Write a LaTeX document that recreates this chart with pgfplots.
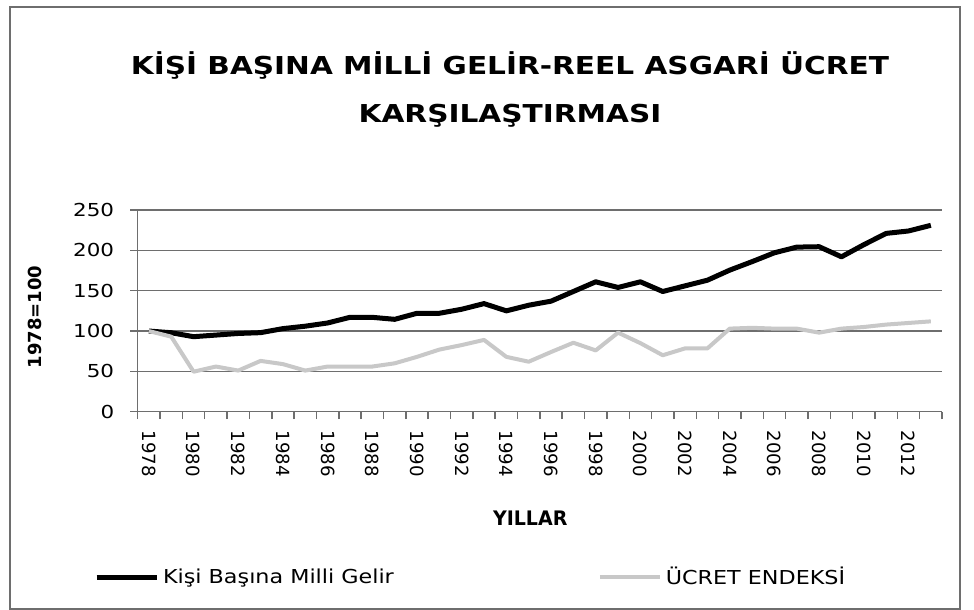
\documentclass[border=0pt]{standalone}
\usepackage{pgfplots}
\pgfplotsset{compat=1.18}
\usepackage{fontspec}
\setmainfont{DejaVu Sans}
\newfontfamily\titlefont{DejaVu Sans}[FakeStretch=1.2]
\newfontfamily\tickfont{DejaVu Sans}[FakeStretch=1.2]
\newfontfamily\legfont{DejaVu Sans}[FakeStretch=1.16]
\newfontfamily\yilfont{DejaVu Sans}[FakeStretch=0.95]
\newfontfamily\rotfont{DejaVu Sans}
\definecolor{gridc}{RGB}{110,110,110}
\definecolor{lgray}{RGB}{200,200,200}
\pgfplotstableread{
year gelir ucret
1978 100 100
1979 97.9 93
1980 93 49.6
1981 95 56
1982 97 51
1983 98 63
1984 103 59
1985 106 51
1986 110 56
1987 117 56
1988 117 56
1989 114.5 60
1990 122 68
1991 122 77
1992 127 82.6
1993 134 89
1994 125 68
1995 132 62
1996 137 74
1997 149 85.5
1998 161 76
1999 154 98
2000 161 85
2001 149 70
2002 156 78.5
2003 163 78.5
2004 175.5 103
2005 186 104
2006 197 103
2007 204 103
2008 204.5 98
2009 192 103
2010 207 105
2011 221 108
2012 224 110
2013 231 112
}\datatable
\begin{document}
\begin{tikzpicture}[x=0.75pt,y=0.75pt]
\useasboundingbox (0,0) rectangle (974,610);
\fill[white] (0,0) rectangle (974,610);
\draw[gridc, line width=1.1pt] (10,1) rectangle (960,603);
\node[anchor=base] at (510,535) {\titlefont\bfseries\fontsize{18.5}{22}\selectfont KİŞİ BAŞINA MİLLİ GELİR-REEL ASGARİ ÜCRET};
\node[anchor=base] at (510,487) {\titlefont\bfseries\fontsize{18.5}{22}\selectfont KARŞILAŞTIRMASI};
\begin{axis}[
  at={(103.3pt,148.7pt)}, anchor=south west,
  scale only axis, width=603.2pt, height=151.3pt,
  xmin=1977.5, xmax=2013.5, ymin=0, ymax=250,
  /pgf/number format/1000 sep={},
  /pgf/number format/assume math mode=true,
  axis lines*=left,
  axis line style={draw=gridc, line width=1.1pt, -},
  ymajorgrids, grid style={draw=gridc, line width=1.1pt},
  ytick={0,50,...,250},
  xtick={1977.5,1978.5,...,2013.5},
  xticklabels={},
  extra x ticks={1978,1980,1982,1984,1986,1988,1990,1992,1994,1996,1998,2000,2002,2004,2006,2008,2010,2012},
  extra x tick labels={1978,1980,1982,1984,1986,1988,1990,1992,1994,1996,1998,2000,2002,2004,2006,2008,2010,2012},
  extra x tick style={major tick length=0pt, grid=none},
  tick align=outside, major tick length=5.5pt,
  tick style={draw=gridc, line width=1.1pt},
  yticklabel style={font=\tickfont\fontsize{13.4}{16}\selectfont, inner sep=0pt, anchor=east},
  yticklabel shift=12pt,
  xticklabel style={font=\rotfont\fontsize{13.6}{16}\selectfont, inner sep=0pt, rotate=-90, anchor=west},
  xticklabel shift=14pt,
  xlabel={\yilfont\bfseries\fontsize{15}{18}\selectfont YILLAR},
  xlabel style={at={(axis description cs:0.488,-0.527)}, anchor=center, inner sep=0pt},
  ylabel={\rotfont\bfseries\fontsize{13.5}{16}\selectfont 1978=100},
  ylabel style={at={(axis description cs:-0.1277,0.4695)}, anchor=center, inner sep=0pt, rotate=0},
  legend columns=2,
  legend image code/.code={\draw[#1] (0pt,0pt) -- (45pt,0pt);},
  legend style={draw=none, fill=none, inner sep=0pt, outer sep=0pt,
    at={(axis description cs:-0.0543,-0.8195)}, anchor=west,
    nodes={inner sep=0pt, anchor=west, font=\legfont\fontsize{14.4}{17}\selectfont},
    /tikz/every odd column/.style={column sep=3pt},
    /tikz/every even column/.style={column sep=153pt}},
]
\addplot[black, line width=3.75pt, line join=round] table[x=year, y=gelir] {\datatable};
\addlegendentry{Kişi Başına Milli Gelir}
\addplot[lgray, line width=3pt, line join=round] table[x=year, y=ucret] {\datatable};
\addlegendentry{ÜCRET ENDEKSİ}
\end{axis}
\end{tikzpicture}
\end{document}
